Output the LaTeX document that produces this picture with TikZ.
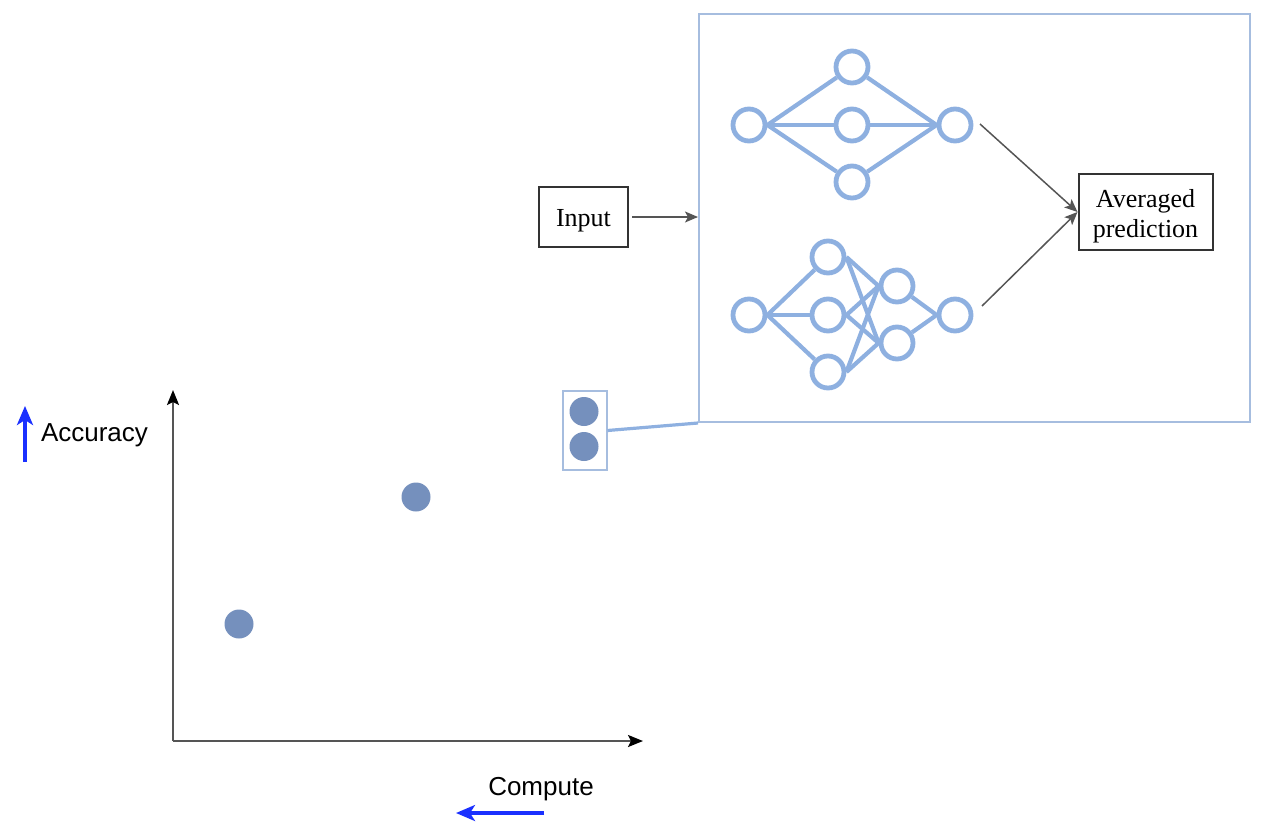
\documentclass[tikz,border=0pt]{standalone}
\usepackage{fontspec}
\setmainfont{Liberation Serif}
\newfontfamily\lsans{Liberation Sans}
\usetikzlibrary{arrows.meta}
\definecolor{nn}{HTML}{8EB0E0}
\definecolor{frame}{HTML}{A6BDDF}
\definecolor{dot}{HTML}{7590BD}
\definecolor{pureblue}{HTML}{1A30FF}
\definecolor{ax}{HTML}{555555}
\tikzset{
  neuron/.style={circle,draw=nn,line width=4.8pt,inner sep=0pt,minimum size=32pt},
  syn/.style={draw=nn,line width=4.2pt},
  pt/.style={circle,fill=dot,inner sep=0pt,minimum size=29pt},
  lbox/.style={draw=black!80,line width=2pt,inner sep=0pt},
  ltext/.style={align=center,font=\fontsize{26}{30}\selectfont,inner sep=0pt},
  grayarrow/.style={draw=ax,line width=1.5pt,-{Stealth[length=13pt,width=11pt,inset=3pt]}},
  axis/.style={draw=ax,line width=2.2pt,-{Stealth[length=15pt,width=12pt,inset=3pt,color=black]}},
  bluearrow/.style={draw=pureblue,line width=3.2pt,-{Stealth[length=19pt,width=16pt,inset=5pt]}},
  sanslabel/.style={font=\lsans\fontsize{26}{30}\selectfont,inner sep=0pt}
}
\begin{document}
\begin{tikzpicture}[x=1pt,y=-1pt]
\useasboundingbox (0,0) rectangle (1263,836);
% big frame
\node[draw=frame,line width=2pt,minimum width=551pt,minimum height=408pt,inner sep=0pt,anchor=north west] (frame) at (698,13) {};
% top network
\node[neuron] (ta) at (749,125) {};
\node[neuron] (tb1) at (852,67) {};
\node[neuron] (tb2) at (852,125) {};
\node[neuron] (tb3) at (852,182) {};
\node[neuron] (tc) at (955,125) {};
\foreach \m in {tb1,tb2,tb3}{
  \draw[syn] (ta.east) -- (\m);
  \draw[syn] (\m) -- (tc.west);
}
% bottom network
\node[neuron] (ba) at (749,315) {};
\node[neuron] (bb1) at (828,257) {};
\node[neuron] (bb2) at (828,315) {};
\node[neuron] (bb3) at (828,372) {};
\node[neuron] (bc1) at (897,286) {};
\node[neuron] (bc2) at (897,343) {};
\node[neuron] (bd) at (955,315) {};
\foreach \m in {bb1,bb2,bb3}{
  \draw[syn] (ba.east) -- (\m);
  \draw[syn] (\m.east) -- (bc1.west);
  \draw[syn] (\m.east) -- (bc2.west);
}
\draw[syn] (bc1) -- (bd.west);
\draw[syn] (bc2) -- (bd.west);
% input and output boxes
\node[lbox,minimum width=89pt,minimum height=60pt] (inp) at (583.5,217) {};
\node[ltext,anchor=base] (inptext) at (583.5,226) {Input};
\node[lbox,minimum width=134pt,minimum height=76pt] (avg) at (1145.5,212) {};
\node[ltext,anchor=base] (avgtext1) at (1145.5,207) {Averaged};
\node[ltext,anchor=base] (avgtext2) at (1145.5,237) {prediction};
\coordinate (fin) at (698,217);
\draw[grayarrow] (inp.east) ++(3,0) -- (fin);
\coordinate (s1) at (980,124);
\coordinate (s2) at (982,306);
\draw[grayarrow] (s1) -- (avg.west);
\draw[grayarrow] (s2) -- (avg.west);
% axes
\coordinate (o) at (173,741);
\coordinate (ytop) at (173,390);
\coordinate (xend) at (643,741);
\draw[axis] (o) -- (ytop);
\draw[axis] (o) -- (xend);
% points
\node[pt] (p1) at (239,624) {};
\node[pt] (p2) at (416,497) {};
\node[pt] (p3) at (584,411.5) {};
\node[pt] (p4) at (584,446.5) {};
\node[draw=frame,line width=2pt,minimum width=44pt,minimum height=79pt,inner sep=0pt] (sel) at (584.5,430.5) {};
\draw[draw=nn,line width=3.2pt] (sel.east) -- (frame.south west);
% labels
\coordinate (au1) at (25,462);
\coordinate (au2) at (25,406);
\draw[bluearrow] (au1) -- (au2);
\node[sanslabel,anchor=base] (acc) at (94.5,441.5) {Accuracy};
\node[sanslabel,anchor=base] (comp) at (541,795) {Compute};
\coordinate (cl1) at (544,813);
\coordinate (cl2) at (456,813);
\draw[bluearrow] (cl1) -- (cl2);
\end{tikzpicture}
\end{document}
